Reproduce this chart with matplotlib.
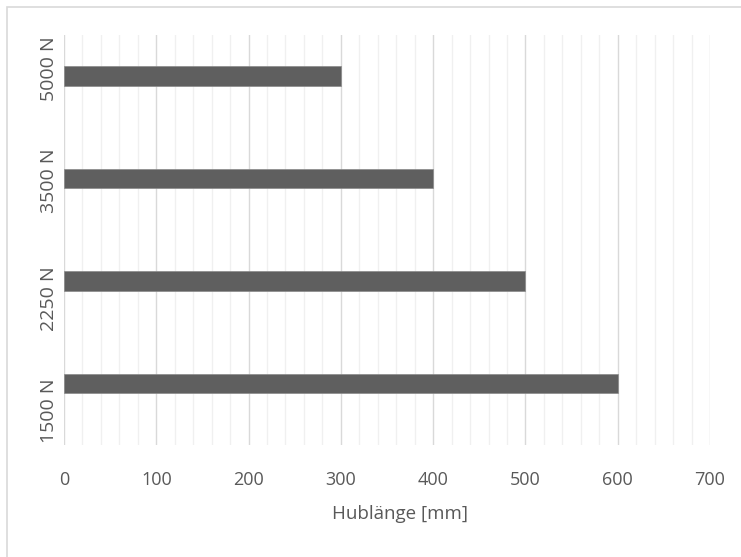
import matplotlib
matplotlib.use("Agg")
import matplotlib.pyplot as plt
from matplotlib.patches import Rectangle
from matplotlib.transforms import ScaledTranslation, Bbox, TransformedBbox
import numpy as np

# Data
categories = ["1500 N", "2250 N", "3500 N", "5000 N"]
stroke_mm = [600, 500, 400, 300]
x_ticks = [0, 100, 200, 300, 400, 500, 600, 700]

plt.rcParams["font.family"] = ["Open Sans", "DejaVu Sans"]
text_color = "#595959"

fig = plt.figure(figsize=(7.41, 5.57), dpi=100)
fig.patch.set_facecolor("white")

# chart frame
fig.add_artist(Rectangle((7 / 741, -0.05), 1.2, 1 - 7 / 557 + 0.05,
                         transform=fig.transFigure, fill=False,
                         edgecolor="#d9d9d9", linewidth=1.2))

ax_bottom = (557 - 445) / 557
ax_height = 410 / 557
ax = fig.add_axes([64 / 741, ax_bottom, 646 / 741, ax_height])

pos = np.arange(len(categories))
ax.barh(pos + 0.1, stroke_mm, height=0.195, color="#5f5f5f",
        edgecolor="#8a8a8a", linewidth=0.5, zorder=3)

ax.set_xlim(0, 700)
ax.set_ylim(-0.5, len(categories) - 0.5)

ax.set_xticks(x_ticks)
ax.set_xticks(np.arange(0, 701, 20), minor=True)
ax.grid(axis="x", which="major", color="#d9d9d9", linewidth=1.0, zorder=0)
ax.grid(axis="x", which="minor", color="#f0f0f0", linewidth=1.0, zorder=0)
ax.set_axisbelow(True)

ax.set_yticks(pos)
ax.set_yticklabels(categories, rotation=90, va="bottom", ha="center",
                   rotation_mode="anchor")
ax.tick_params(axis="y", length=0, pad=4, labelsize=14, labelcolor=text_color)
ax.tick_params(axis="x", which="both", length=0, pad=19, labelsize=13,
               labelcolor=text_color)

# spread the rotated category labels slightly and keep them within the plot height
label_clip = TransformedBbox(Bbox([[0, ax_bottom], [1, ax_bottom + ax_height]]),
                             fig.transFigure)
offsets_px = [17, 7, -8, -18]
for lab, off in zip(ax.get_yticklabels(), offsets_px):
    lab.set_transform(lab.get_transform() +
                      ScaledTranslation(0, -off / 100, fig.dpi_scale_trans))
    lab.set_clip_box(label_clip)
    lab.set_clip_on(True)

for s in ax.spines.values():
    s.set_visible(False)

fig.text(400 / 741, 1 - 514 / 557, "Hublänge [mm]", ha="center", va="center",
         fontsize=13.5, color=text_color)

fig.savefig("out.png", dpi=100, facecolor="white")
